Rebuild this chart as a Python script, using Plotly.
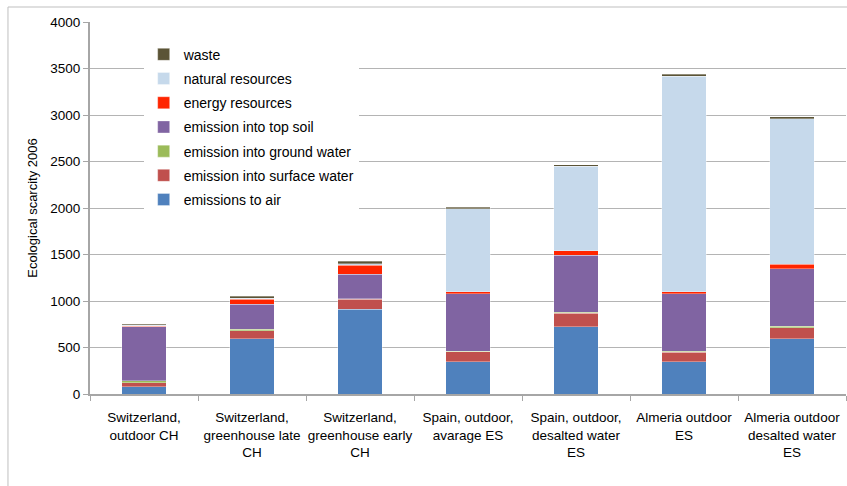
import plotly.graph_objects as go

categories = [
    "Switzerland,<br>outdoor CH",
    "Switzerland,<br>greenhouse late<br>CH",
    "Switzerland,<br>greenhouse early<br>CH",
    "Spain, outdoor,<br>avarage ES",
    "Spain, outdoor,<br>desalted water<br>ES",
    "Almeria outdoor<br>ES",
    "Almeria outdoor<br>desalted water<br>ES",
]

emissions_to_air = [79, 592, 912, 348, 725, 348, 592]
emission_surface_water = [43, 90, 108, 104, 144, 101, 122]
emission_ground_water = [18, 15, 5, 10, 8, 12, 15]
emission_top_soil = [585, 269, 264, 615, 613, 616, 617]
energy_resources = [5, 55, 97, 22, 50, 22, 47]
natural_resources = [10, 8, 14, 893, 908, 2319, 1565]
waste = [8, 20, 29, 15, 18, 18, 22]

y_ticks = [0, 500, 1000, 1500, 2000, 2500, 3000, 3500, 4000]

series = [
    ("emissions to air", emissions_to_air, "#4F81BD"),
    ("emission into surface water", emission_surface_water, "#C0504D"),
    ("emission into ground water", emission_ground_water, "#9BBB59"),
    ("emission into top soil", emission_top_soil, "#8064A2"),
    ("energy resources", energy_resources, "#FF2500"),
    ("natural resources", natural_resources, "#C6D9EB"),
    ("waste", waste, "#5B5436"),
]

FONT = "Liberation Sans, Arial, sans-serif"

fig = go.Figure()
n = len(series)
for i, (name, vals, color) in enumerate(series):
    fig.add_trace(go.Bar(
        x=categories, y=vals, name=name,
        marker=dict(color=color, line=dict(color="rgba(255,255,255,0.55)", width=0.6)),
        legendgroup=f"g{i}",
        legendrank=(n - i) * 10,
    ))

fig.update_layout(
    barmode="stack",
    bargap=0.59,
    width=847, height=486,
    margin=dict(l=90, r=1, t=22, b=92),
    paper_bgcolor="white",
    plot_bgcolor="white",
    font=dict(family=FONT, size=14, color="black"),
    legend=dict(
        x=0.071, y=0.955, xanchor="left", yanchor="top",
        bgcolor="white", borderwidth=0,
        traceorder="grouped", tracegroupgap=3,
        font=dict(family=FONT, size=14, color="black"),
    ),
    xaxis=dict(
        showline=True, linecolor="#A6A6A6", linewidth=2,
        ticks="outside", tickson="boundaries", ticklen=5, tickcolor="#A6A6A6",
        showgrid=False, tickangle=0, automargin=False,
        ticklabelstandoff=10,
        tickfont=dict(family=FONT, size=13.5, color="black"),
    ),
    yaxis=dict(
        range=[0, 4000],
        tickvals=y_ticks,
        showline=True, linecolor="#A6A6A6", linewidth=2,
        ticks="outside", ticklen=5, tickcolor="#A6A6A6",
        showgrid=True, gridcolor="#B4B4B4", gridwidth=1,
        zeroline=False, automargin=False,
        tickfont=dict(family=FONT, size=13.5, color="black"),
        title=dict(text="Ecological scarcity 2006", standoff=10,
                   font=dict(family=FONT, size=13, color="black")),
    ),
    shapes=[dict(
        type="rect", xref="paper", yref="paper",
        x0=-0.1085, x1=1.2, y0=-0.6, y1=1.0403,
        line=dict(color="#BFBFBF", width=1), fillcolor="rgba(0,0,0,0)",
        layer="below",
    )],
)

fig.write_html(
    "out.html",
    config={"displayModeBar": False},
    post_script="document.body.style.margin='0px';document.body.style.overflow='hidden';",
)
